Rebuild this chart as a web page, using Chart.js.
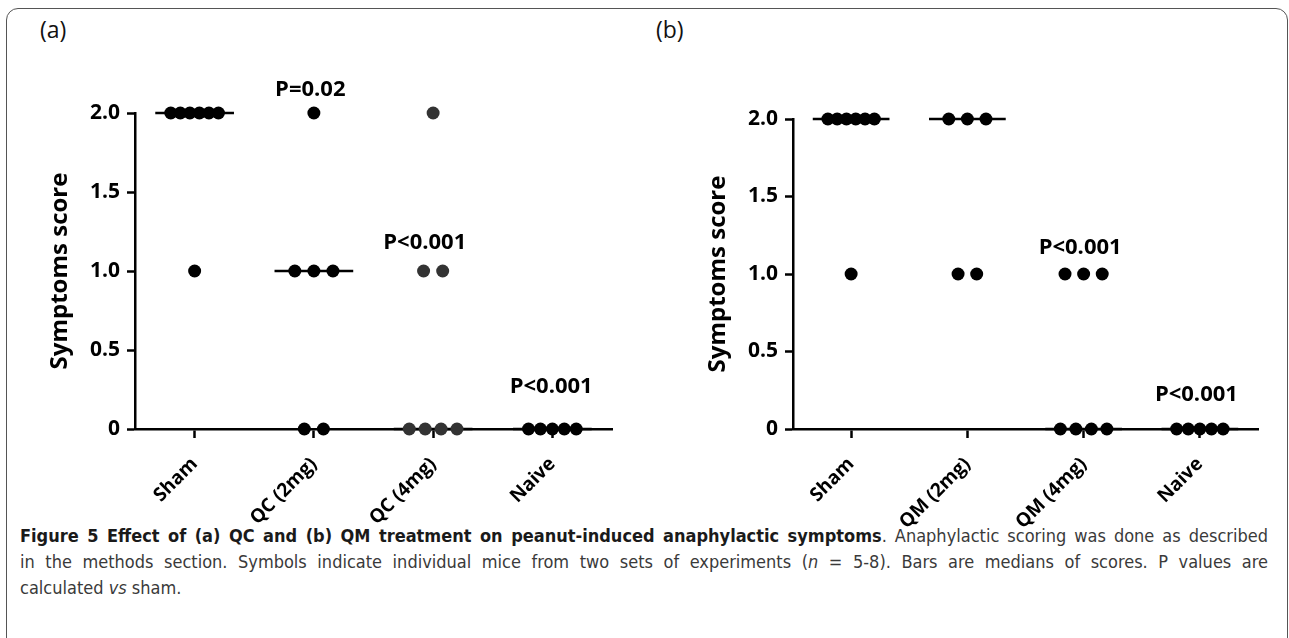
<!DOCTYPE html>
<html>
<head>
<meta charset="utf-8">
<script src="https://cdn.jsdelivr.net/npm/chart.js@4.4.0/dist/chart.umd.min.js"></script>
<style>
  html, body { margin: 0; padding: 0; background: #fff; width: 1289px; height: 638px; overflow: hidden; }
  .frame { position: absolute; left: 6px; top: 8px; width: 1280px; height: 700px; border: 1.5px solid #555; border-radius: 12px; }
  .panel { position: absolute; top: 13px; font-family: 'Open Sans'; font-size: 23px; color: #111; }
  canvas { position: absolute; top: 0; }
  .caption { position: absolute; left: 20px; top: 523px; width: 1248px; font-family: 'DejaVu Sans Condensed', 'DejaVu Sans', sans-serif; font-size: 18px; line-height: 26px; color: #3a3a3a; }
  .caption div { white-space: nowrap; }
  .caption .just { text-align: justify; text-align-last: justify; }
  .caption b { color: #1a1a1a; }
</style>
</head>
<body>
<div class="frame"></div>
<div class="panel" style="left:40px">(a)</div>
<div class="panel" style="left:656px">(b)</div>
<div class="caption">
  <div class="just"><b>Figure 5 Effect of (a) QC and (b) QM treatment on peanut-induced anaphylactic symptoms</b>. Anaphylactic scoring was done as described</div>
  <div class="just">in the methods section. Symbols indicate individual mice from two sets of experiments (<i>n</i> = 5-8). Bars are medians of scores. P values are</div>
  <div>calculated <i>vs</i> sham.</div>
</div>
<canvas id="chartA" width="640" height="530" style="left:0px"></canvas>
<canvas id="chartB" width="631" height="530" style="left:658px"></canvas>
<script>
// dados
const groupsA = ['Sham', 'QC (2mg)', 'QC (4mg)', 'Naive'];
const groupsB = ['Sham', 'QM (2mg)', 'QM (4mg)', 'Naive'];

// escores individuais (a)
const shamA = [2, 2, 2, 2, 2, 2, 1];
const qc2 = [2, 1, 1, 1, 0, 0];
const qc4 = [2, 1, 1, 0, 0, 0, 0];
const naiveA = [0, 0, 0, 0, 0];

// escores individuais (b)
const shamB = [2, 2, 2, 2, 2, 2, 1];
const qm2 = [2, 2, 2, 1, 1];
const qm4 = [1, 1, 1, 0, 0, 0, 0];
const naiveB = [0, 0, 0, 0, 0];

const yTicks = [0, 0.5, 1, 1.5, 2];
const yTickLabels = ['0', '0.5', '1.0', '1.5', '2.0'];

// texto dos valores P por grupo
const pTextA = ['', 'P=0.02', 'P<0.001', 'P<0.001'];
const pTextB = ['', '', 'P<0.001', 'P<0.001'];

Chart.defaults.font.family = "'Open Sans'";

function median(arr) {
  const s = arr.slice().sort((a, b) => a - b);
  const m = Math.floor(s.length / 2);
  return s.length % 2 ? s[m] : (s[m - 1] + s[m]) / 2;
}

// espalha pontos com mesmo valor lado a lado (tipo dot plot)
function swarm(scores, idx) {
  const counts = {};
  scores.forEach(v => counts[v] = (counts[v] || 0) + 1);
  const seen = {};
  return scores.map(v => {
    const n = counts[v];
    const k = seen[v] = (seen[v] === undefined ? 0 : seen[v] + 1);
    const step = n > 1 ? Math.min(0.16, 0.4 / (n - 1)) : 0;
    return { x: idx + (k - (n - 1) / 2) * step, y: v };
  });
}

const pvalPlugin = {
  id: 'pvals',
  afterDatasetsDraw(chart, args, opts) {
    const { ctx, scales: { x, y } } = chart;
    ctx.save();
    ctx.font = "bold 22px 'Open Sans'";
    ctx.fillStyle = '#000';
    ctx.textAlign = 'center';
    ctx.textBaseline = 'middle';
    opts.items.forEach(p => {
      ctx.fillText(opts.texts[p.g], x.getPixelForValue(p.x), y.getPixelForValue(p.y));
    });
    ctx.restore();
  }
};

function makeChart(id, groups, series, colors, pTexts, pItems, padTop, padRight) {
  const datasets = [];
  series.forEach((scores, i) => {
    datasets.push({
      type: 'scatter',
      data: swarm(scores, i),
      backgroundColor: colors[i],
      borderWidth: 0,
      pointRadius: 6.5,
      order: 1,
      clip: false
    });
    const m = median(scores);
    datasets.push({
      type: 'line',
      data: [{ x: i - 0.33, y: m }, { x: i + 0.33, y: m }],
      borderColor: '#000',
      borderWidth: 2.5,
      pointRadius: 0,
      order: 2,
      clip: false
    });
  });

  return new Chart(document.getElementById(id), {
    type: 'scatter',
    data: { datasets },
    options: {
      responsive: false,
      animation: false,
      events: [],
      layout: { padding: { top: padTop, right: padRight, left: 0, bottom: 0 } },
      plugins: {
        legend: { display: false },
        tooltip: { enabled: false },
        pvals: { texts: pTexts, items: pItems }
      },
      scales: {
        x: {
          type: 'linear',
          min: -0.5,
          max: 3.5,
          afterBuildTicks: s => { s.ticks = groups.map((g, i) => ({ value: i })); },
          afterFit: s => { s.height = 101; s.paddingLeft = 0; s.paddingRight = 0; },
          ticks: {
            autoSkip: false,
            maxRotation: 45,
            minRotation: 45,
            padding: 15,
            color: '#000',
            font: { family: "'Open Sans'", weight: 'bold', size: 19 },
            callback: v => groups[v]
          },
          grid: { drawOnChartArea: false, drawTicks: true, tickLength: 9, tickWidth: 2.5, color: '#000' },
          border: { display: true, color: '#000', width: 2.5 }
        },
        y: {
          min: 0,
          max: 2,
          afterBuildTicks: s => { s.ticks = yTicks.map(v => ({ value: v })); },
          afterFit: s => { s.width = 135; s.paddingTop = 0; s.paddingBottom = 0; },
          ticks: {
            padding: 7,
            color: '#000',
            font: { family: "'Open Sans'", weight: 'bold', size: 21 },
            callback: (v) => yTickLabels[yTicks.indexOf(v)]
          },
          grid: { drawOnChartArea: false, drawTicks: true, tickLength: 8, tickWidth: 2.5, color: '#000' },
          border: { display: true, color: '#000', width: 2.5 },
          title: {
            display: true,
            text: 'Symptoms score',
            color: '#000',
            font: { family: "'Open Sans'", weight: 'bold', size: 24 },
            padding: { top: 46, bottom: 0 }
          }
        }
      }
    },
    plugins: [pvalPlugin]
  });
}

makeChart('chartA', groupsA, [shamA, qc2, qc4, naiveA],
  ['#000', '#000', '#333', '#000'], pTextA,
  [{ g: 1, x: 0.97, y: 2.15 }, { g: 2, x: 1.93, y: 1.18 }, { g: 3, x: 2.99, y: 0.27 }],
  113, 28);

makeChart('chartB', groupsB, [shamB, qm2, qm4, naiveB],
  ['#000', '#000', '#000', '#000'], pTextB,
  [{ g: 2, x: 1.97, y: 1.17 }, { g: 3, x: 2.97, y: 0.22 }],
  119, 31);
</script>
</body>
</html>
